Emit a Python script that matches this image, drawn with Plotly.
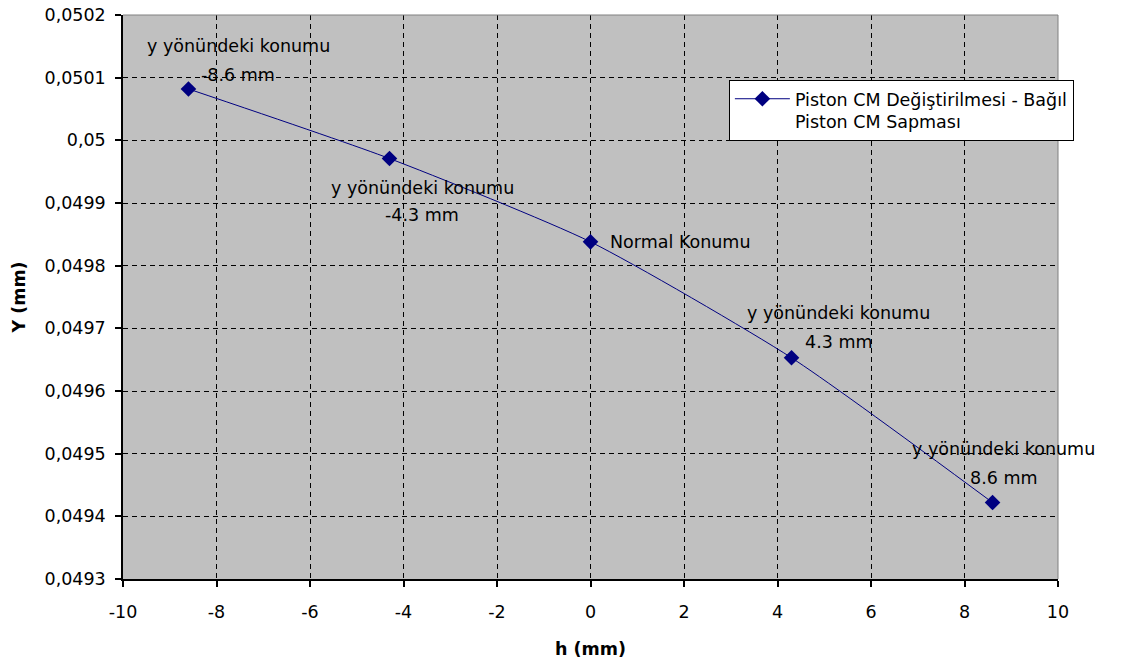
import plotly.graph_objects as go

# Piston CM displacement (h, mm) against deviation Y (mm)
h_mm = [-8.6, -4.3, 0.0, 4.3, 8.6]
y_mm = [0.050082, 0.049971, 0.049838, 0.049653, 0.049422]

series_name = "Piston CM Değiştirilmesi - Bağıl<br>Piston CM Sapması"

# point labels (first and second line)
label_line1 = ["y yönündeki konumu", "y yönündeki konumu", "Normal Konumu",
               "y yönündeki konumu", "y yönündeki konumu"]
label_line2 = ["-8.6 mm", "-4.3 mm", "", "4.3 mm", "8.6 mm"]

# axis ticks
x_ticks = [-10, -8, -6, -4, -2, 0, 2, 4, 6, 8, 10]
x_tick_text = ["-10", "-8", "-6", "-4", "-2", "0", "2", "4", "6", "8", "10"]
y_ticks = [0.0493, 0.0494, 0.0495, 0.0496, 0.0497, 0.0498, 0.0499, 0.05, 0.0501, 0.0502]
y_tick_text = ["0,0493", "0,0494", "0,0495", "0,0496", "0,0497", "0,0498",
               "0,0499", "0,05", "0,0501", "0,0502"]

FONT = "DejaVu Sans"
NAVY = "#000080"

fig = go.Figure()
fig.add_trace(go.Scatter(
    x=h_mm, y=y_mm, name=series_name, mode="lines+markers",
    line=dict(color=NAVY, width=1, shape="spline", smoothing=0.6),
    marker=dict(symbol="diamond", size=12, color=NAVY),
))

# label placement offsets in pixels: (dx, dy line1, dy line2)
offsets = [(50, 43, 14), (33, -29, -56), (17, 0, 0), (47, 45, 16), (11, 54, 25)]
for xv, yv, t1, t2, (dx, d1, d2) in zip(h_mm, y_mm, label_line1, label_line2, offsets):
    single = t2 == ""
    fig.add_annotation(x=xv, y=yv, text=t1, showarrow=False,
                       xanchor="left" if single else "center", yanchor="middle",
                       xshift=dx, yshift=d1, font=dict(family=FONT, size=17.5, color="black"))
    if not single:
        fig.add_annotation(x=xv, y=yv, text=t2, showarrow=False,
                           xanchor="center", yanchor="middle",
                           xshift=dx, yshift=d2, font=dict(family=FONT, size=17.5, color="black"))

# grey frame on the top and right of the plot area
fig.add_shape(type="line", xref="paper", yref="paper", x0=0, x1=1, y0=1, y1=1,
              line=dict(color="#808080", width=1))
fig.add_shape(type="line", xref="paper", yref="paper", x0=1, x1=1, y0=0, y1=1,
              line=dict(color="#808080", width=1))

axis_common = dict(
    showgrid=True, gridcolor="black", gridwidth=1, griddash="5px,4px",
    showline=True, linecolor="black", linewidth=1.5,
    ticks="outside", ticklen=6, tickcolor="black", tickwidth=1.5,
    zeroline=False, automargin=False,
    tickfont=dict(family=FONT, size=17.5, color="black"),
)

fig.update_xaxes(range=[-10, 10], tickvals=x_ticks, ticktext=x_tick_text, ticklabelstandoff=10,
                 title=dict(text="<b>h (mm)</b>", font=dict(family=FONT, size=17.5, color="black"),
                            standoff=22),
                 **axis_common)
fig.update_yaxes(range=[0.0493, 0.0502], tickvals=y_ticks, ticktext=y_tick_text,
                 ticklabelstandoff=6,
                 title=dict(text="<b>Y (mm)</b>", font=dict(family=FONT, size=17.5, color="black"),
                            standoff=14),
                 **axis_common)

fig.update_layout(
    width=1123, height=669,
    margin=dict(l=123, r=65, t=15, b=90),
    paper_bgcolor="white", plot_bgcolor="#C0C0C0",
    font=dict(family=FONT, size=17.5, color="black"),
    showlegend=True,
    legend=dict(x=0.648, y=0.885, xanchor="left", yanchor="top",
                bgcolor="white", bordercolor="black", borderwidth=1,
                itemwidth=55, valign="top",
                font=dict(family=FONT, size=17.5, color="black")),
)

fig.write_html("out.html")
